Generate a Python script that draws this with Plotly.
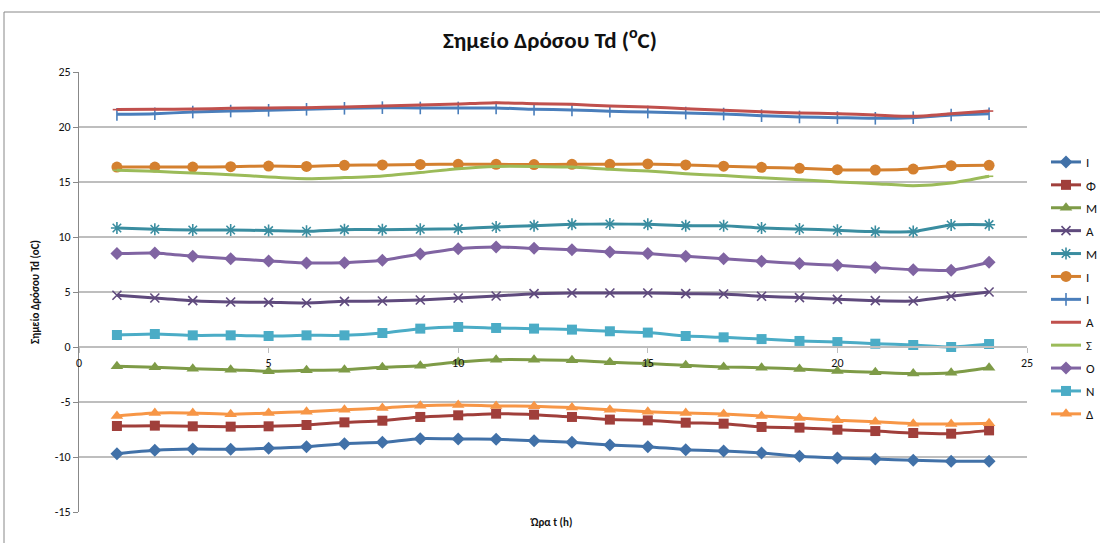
import plotly.graph_objects as go

# Hourly dew point (°C) per month, hours 1..24
hours = list(range(1, 25))

month_labels = ["Ι", "Φ", "Μ", "Α", "Μ", "Ι", "Ι", "Α", "Σ", "Ο", "Ν", "Δ"]

jan = [-9.70, -9.39, -9.27, -9.30, -9.21, -9.06, -8.79, -8.67, -8.33, -8.36, -8.39, -8.52,
       -8.67, -8.91, -9.06, -9.33, -9.45, -9.64, -9.94, -10.09, -10.18, -10.30, -10.39, -10.39]
feb = [-7.18, -7.15, -7.21, -7.24, -7.21, -7.09, -6.85, -6.70, -6.36, -6.21, -6.06, -6.15,
       -6.36, -6.60, -6.67, -6.88, -6.97, -7.27, -7.33, -7.52, -7.64, -7.82, -7.88, -7.58]
mar = [-1.75, -1.85, -1.97, -2.06, -2.21, -2.12, -2.06, -1.85, -1.70, -1.36, -1.15, -1.15,
       -1.21, -1.39, -1.51, -1.66, -1.82, -1.88, -2.00, -2.18, -2.30, -2.42, -2.33, -1.88]
apr = [4.70, 4.45, 4.21, 4.09, 4.06, 4.00, 4.15, 4.18, 4.27, 4.45, 4.64, 4.85,
       4.91, 4.91, 4.91, 4.85, 4.82, 4.61, 4.49, 4.33, 4.21, 4.18, 4.61, 5.00]
may = [10.82, 10.70, 10.64, 10.64, 10.58, 10.52, 10.67, 10.67, 10.70, 10.76, 10.91, 11.03,
       11.15, 11.18, 11.15, 11.03, 11.02, 10.82, 10.73, 10.61, 10.49, 10.49, 11.09, 11.12]
jun = [16.36, 16.36, 16.36, 16.39, 16.45, 16.42, 16.52, 16.55, 16.60, 16.61, 16.61, 16.58,
       16.61, 16.61, 16.64, 16.55, 16.44, 16.33, 16.24, 16.12, 16.09, 16.18, 16.48, 16.52]
jul = [21.15, 21.21, 21.36, 21.45, 21.52, 21.61, 21.70, 21.76, 21.73, 21.73, 21.73, 21.61,
       21.55, 21.43, 21.36, 21.27, 21.18, 21.03, 20.91, 20.85, 20.79, 20.85, 21.09, 21.21]
aug = [21.58, 21.61, 21.64, 21.70, 21.73, 21.76, 21.82, 21.91, 22.00, 22.09, 22.21, 22.12,
       22.06, 21.91, 21.82, 21.67, 21.52, 21.38, 21.27, 21.21, 21.09, 20.97, 21.21, 21.45]
sep = [16.06, 15.97, 15.82, 15.67, 15.45, 15.30, 15.40, 15.55, 15.86, 16.21, 16.42, 16.42,
       16.36, 16.15, 16.00, 15.76, 15.58, 15.38, 15.21, 15.00, 14.85, 14.67, 14.91, 15.52]
oct_ = [8.49, 8.55, 8.25, 8.03, 7.82, 7.64, 7.67, 7.88, 8.46, 8.94, 9.09, 8.97,
        8.85, 8.64, 8.49, 8.25, 8.03, 7.80, 7.58, 7.43, 7.22, 7.03, 6.97, 7.70]
nov = [1.09, 1.18, 1.06, 1.06, 1.00, 1.06, 1.06, 1.27, 1.67, 1.82, 1.73, 1.67,
       1.58, 1.43, 1.31, 1.00, 0.88, 0.72, 0.55, 0.45, 0.30, 0.18, 0.00, 0.27]
dec = [-6.27, -6.00, -6.00, -6.12, -6.00, -5.88, -5.70, -5.55, -5.33, -5.27, -5.36, -5.39,
       -5.51, -5.70, -5.88, -6.00, -6.09, -6.28, -6.45, -6.67, -6.79, -6.97, -7.00, -6.94]

x_ticks = [0, 5, 10, 15, 20, 25]
y_ticks = [-15, -10, -5, 0, 5, 10, 15, 20, 25]
y_tick_text = ["-15", "-10", "-5", "0", "5", "10", "15", "20", "25"]

series = [jan, feb, mar, apr, may, jun, jul, aug, sep, oct_, nov, dec]

# line colour, marker symbol, marker size
styles = [
    ("#4171A8", "diamond", 10),
    ("#A03F3B", "square", 10),
    ("#7E9B47", "triangle-up", 11),
    ("#5F4A7D", "x-thin-open", 9),
    ("#3A8DA0", "asterisk-open", 10),
    ("#D4802F", "circle", 11),
    ("#4A7EBB", "line-ns-open", 9),
    ("#C0504D", "line-ew-open", 6),
    ("#9BBB59", "line-ew-open", 6),
    ("#8064A2", "diamond", 10),
    ("#4BACC6", "square", 10),
    ("#F79646", "triangle-up", 11),
]

FONT = "Carlito, Liberation Sans Narrow, DejaVu Sans Condensed, Open Sans, sans-serif"

fig = go.Figure()
for i, (vals, name, (col, sym, size)) in enumerate(zip(series, month_labels, styles)):
    fig.add_trace(go.Scatter(
        x=hours, y=vals, name=name, mode="lines+markers",
        line=dict(color=col, width=3, shape="spline", smoothing=0.6),
        marker=dict(symbol=sym, size=size, color=col,
                    line=dict(color=col, width=1.6 if "open" in sym else 0)),
        legendgroup=f"g{i}",
    ))

L, R, T, B = 79, 73, 72, 31
W, H = 1100, 543
pw, ph = W - L - R, H - T - B

def px_x(p):
    return (p - L) / pw

def px_y(p):
    return (H - B - p) / ph

fig.update_layout(
    width=W, height=H,
    margin=dict(l=L, r=R, t=T, b=B, autoexpand=False),
    paper_bgcolor="white", plot_bgcolor="white",
    font=dict(family=FONT, size=11, color="#222222"),
    title=dict(text="<b>Σημείο Δρόσου Td (<sup>o</sup>C)</b>",
               x=0.5, xanchor="center", y=1 - 40 / H, yanchor="middle",
               font=dict(size=23, color="#111111")),
    xaxis=dict(range=[0, 25], tickvals=x_ticks, ticktext=[str(v) for v in x_ticks],
               showgrid=False, zeroline=False, showline=True, linecolor="#BEBEBE",
               linewidth=2, ticks="outside", ticklen=5, tickcolor="#BEBEBE",
               anchor="free", position=15 / 40,
               tickfont=dict(size=12, color="#111111")),
    yaxis=dict(range=[-15, 25], tickvals=y_ticks, ticktext=y_tick_text,
               showgrid=True, gridcolor="#BEBEBE", gridwidth=1.5, zeroline=False,
               showline=True, linecolor="#888888", linewidth=1,
               ticks="outside", ticklen=5, tickcolor="#888888",
               tickfont=dict(size=12, color="#111111")),
    legend=dict(x=px_x(1046), xanchor="left", y=px_y(147), yanchor="top",
                traceorder="grouped", tracegroupgap=3, itemwidth=30,
                font=dict(size=13, color="#111111"), bgcolor="rgba(0,0,0,0)"),
    showlegend=True,
    shapes=[dict(type="rect", xref="paper", yref="paper",
                 x0=px_x(4), x1=px_x(1120), y0=px_y(12), y1=px_y(570),
                 line=dict(color="#888888", width=1), fillcolor="rgba(0,0,0,0)",
                 layer="below")],
    annotations=[
        dict(text="<b>Ώρα t (h)</b>", xref="paper", yref="paper",
             x=px_x(551), y=px_y(522), xanchor="center", yanchor="middle",
             showarrow=False, font=dict(size=11, color="#111111")),
        dict(text="<b>Σημείο Δρόσου Td (oC)</b>", xref="paper", yref="paper",
             x=px_x(35), y=px_y(292), xanchor="center", yanchor="middle",
             textangle=-90, showarrow=False, font=dict(size=11, color="#111111")),
    ],
)

fig.write_html("out.html")
